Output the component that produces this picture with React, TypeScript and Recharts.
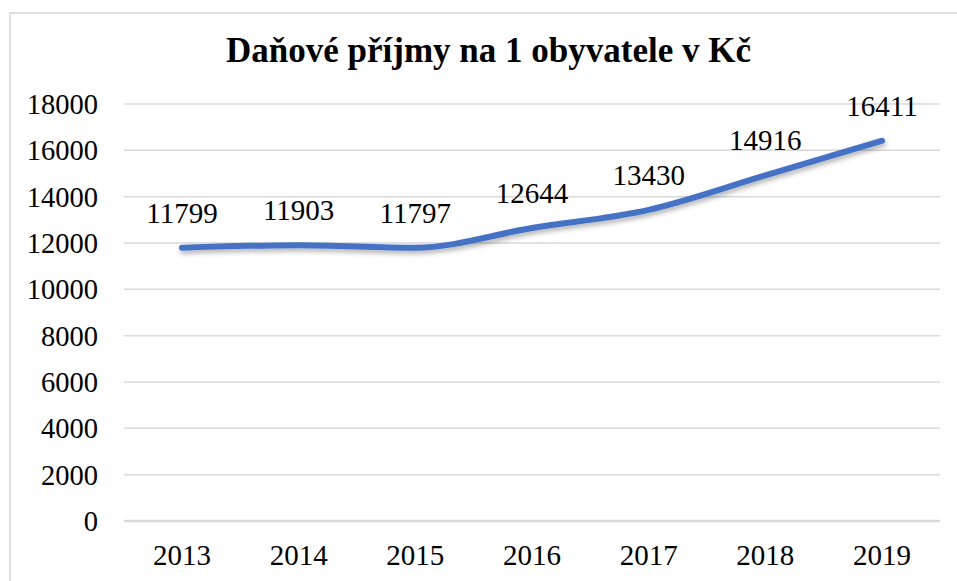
import { LineChart, Line, XAxis, YAxis, CartesianGrid, LabelList } from 'recharts';

const years = ['2013', '2014', '2015', '2016', '2017', '2018', '2019'];
const taxPerCapita = [11799, 11903, 11797, 12644, 13430, 14916, 16411];
const yTicks = [0, 2000, 4000, 6000, 8000, 10000, 12000, 14000, 16000, 18000];
const title = 'Daňové příjmy na 1 obyvatele v Kč';

const serif = 'Liberation Serif, Times New Roman, serif';

function XTick(props: any) {
  const { x, y, payload } = props;
  return (
    <text x={x} y={y + 44} textAnchor="middle" fontFamily={serif} fontSize={29} fill="#000">
      {payload.value}
    </text>
  );
}

function YTick(props: any) {
  const { x, y, payload } = props;
  return (
    <text x={x} y={y + 10} textAnchor="end" fontFamily={serif} fontSize={28.5} fill="#000">
      {payload.value}
    </text>
  );
}

function PointLabel(props: any) {
  const { x, y, value } = props;
  return (
    <text x={x} y={y - 25} textAnchor="middle" fontFamily={serif} fontSize={29} fill="#000">
      {value}
    </text>
  );
}

export default function App() {
  const data = years.map((year, i) => ({ year, value: taxPerCapita[i] }));

  return (
    <div
      style={{
        position: 'absolute',
        left: 0,
        top: 0,
        width: 957,
        height: 581,
        overflow: 'hidden',
        background: '#fff',
        fontFamily: serif,
      }}
    >
      <svg width={0} height={0} style={{ position: 'absolute' }}>
        <defs>
          <filter id="lineShadow" x="-10%" y="-50%" width="120%" height="200%">
            <feDropShadow dx="1" dy="3" stdDeviation="2.5" floodColor="#000" floodOpacity="0.3" />
          </filter>
        </defs>
      </svg>

      <div
        style={{
          position: 'absolute',
          left: 9,
          top: 12,
          width: 1000,
          height: 700,
          border: '2px solid #e0e0e0',
        }}
      />

      <div
        style={{
          position: 'absolute',
          left: 0,
          top: 31,
          width: 977,
          textAlign: 'center',
          fontWeight: 'bold',
          fontSize: 35,
          color: '#000',
        }}
      >
        {title}
      </div>

      <div style={{ position: 'absolute', left: 0, top: 0 }}>
        <LineChart
          width={957}
          height={581}
          data={data}
          margin={{ top: 104, right: 17, bottom: 10, left: 0 }}
        >
          <CartesianGrid vertical={false} stroke="#d9d9d9" strokeWidth={1.5} />
          <XAxis
            dataKey="year"
            height={50}
            padding={{ left: 58, right: 58 }}
            axisLine={{ stroke: '#d9d9d9', strokeWidth: 2.5 }}
            tickLine={false}
            tickSize={0}
            tickMargin={0}
            tick={<XTick />}
          />
          <YAxis
            width={124}
            domain={[0, 18000]}
            ticks={yTicks}
            axisLine={false}
            tickLine={false}
            tickSize={0}
            tickMargin={26}
            tick={<YTick />}
          />
          <Line
            type="monotone"
            dataKey="value"
            stroke="#4472C4"
            strokeWidth={6}
            strokeLinecap="round"
            dot={false}
            activeDot={false}
            filter="url(#lineShadow)"
            isAnimationActive={false}
          >
            <LabelList dataKey="value" content={<PointLabel />} />
          </Line>
        </LineChart>
      </div>
    </div>
  );
}
